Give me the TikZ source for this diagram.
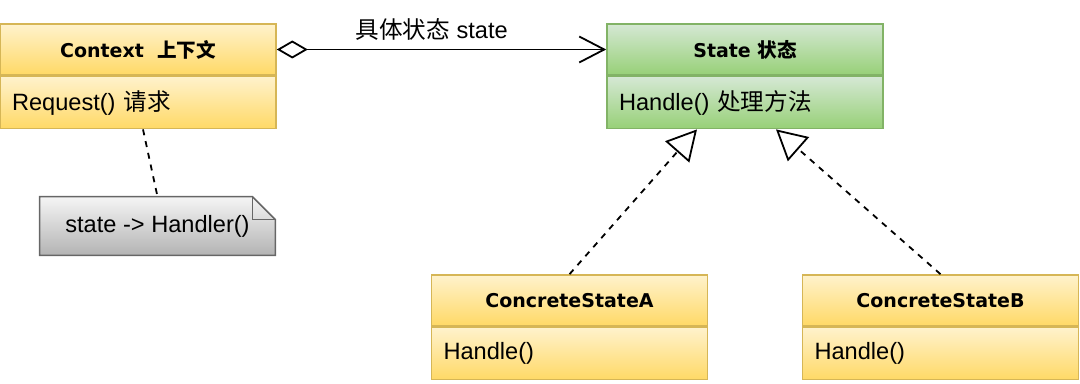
\documentclass[tikz,border=0pt]{standalone}
\usepackage{fontspec}
\setmainfont{Liberation Sans}
\newfontfamily\hdfont{DejaVu Sans}
\newfontfamily\cjk{Noto Sans CJK SC}
\usetikzlibrary{positioning, arrows.meta, backgrounds}

\definecolor{ylTop}{HTML}{FFF2CC}
\definecolor{ylBot}{HTML}{FFD966}
\definecolor{ylLine}{HTML}{D6B656}
\definecolor{grTop}{HTML}{D5E8D4}
\definecolor{grBot}{HTML}{97D077}
\definecolor{grLine}{HTML}{82B366}
\definecolor{gyTop}{HTML}{F5F5F5}
\definecolor{gyBot}{HTML}{B3B3B3}
\definecolor{gyLine}{HTML}{666666}

\tikzset{
  head/.style={draw, line width=0.8pt, minimum width=138pt, minimum height=25.5pt,
    inner sep=0pt, font=\hdfont\bfseries\fontsize{9.5}{11}\selectfont},
  body/.style={draw, line width=0.8pt, minimum height=26pt, text width=126pt,
    inner xsep=6pt, inner ysep=0pt, align=left, font=\fontsize{11.8}{13}\selectfont},
  ylbox/.style={top color=ylTop, bottom color=ylBot, draw=ylLine},
  grbox/.style={top color=grTop, bottom color=grBot, draw=grLine},
  notebox/.style={minimum width=117.5pt, minimum height=29pt, inner sep=0pt,
    font=\fontsize{11.8}{13}\selectfont},
  conn/.style={line width=0.9pt}
}

\begin{document}
\begin{tikzpicture}[x=0.5pt, y=-0.5pt, >=latex]
    \useasboundingbox (0,0) rectangle (1080,384);

    % 1. Context
    \node[head, ylbox] (ctxHead) at (138,49.5) {Context\ \ {\cjk\fontsize{9.8}{11}\selectfont 上下文}};
    \node[body, ylbox, below=0pt of ctxHead] (ctxBody) {Request() {\cjk 请求}};

    % 2. State
    \node[head, grbox] (stHead) at (745,49.5) {State {\cjk\fontsize{9.8}{11}\selectfont 状态}};
    \node[body, grbox, below=0pt of stHead] (stBody) {Handle() {\cjk 处理方法}};

    % 3. ConcreteStateA, ConcreteStateB
    \node[head, ylbox] (csaHead) at (569.5,300.5) {ConcreteStateA};
    \node[body, ylbox, below=0pt of csaHead] (csaBody) {Handle()};
    \node[head, ylbox] (csbHead) at (940.5,300.5) {ConcreteStateB};
    \node[body, ylbox, below=0pt of csbHead] (csbBody) {Handle()};

    % 4. Ghi chu
    \node[notebox] (note) at (157.5,226) {state -> Handler()};
    \begin{scope}[on background layer]
        \shade[top color=gyTop, bottom color=gyBot, draw=gyLine, line width=0.8pt]
            (note.south west) -- (note.north west) -- ([xshift=-11.5pt]note.north east)
            -- ([yshift=-11.5pt]note.north east) -- (note.south east) -- cycle;
        \draw[gyLine, line width=0.8pt] ([xshift=-11.5pt]note.north east)
            |- ([yshift=-11.5pt]note.north east);
    \end{scope}
    \draw[conn, dashed] ([xshift=2.5pt]ctxBody.south) -- (note.north);

    % 5. Cac duong noi
    \draw[conn, {Diamond[open, length=15.5pt, width=9pt]}-{Straight Barb[length=12.5pt, width=13pt]}]
        (ctxHead.east) -- node[pos=0.47, above=1pt, font=\fontsize{11.8}{13}\selectfont]
        {{\cjk 具体状态} state} (stHead.west);
    \draw[conn, dashed, -{Triangle[open, length=15pt, width=16pt]}]
        (csaHead.north) -- ([xshift=-24pt]stBody.south);
    \draw[conn, dashed, -{Triangle[open, length=15pt, width=16pt]}]
        (csbHead.north) -- ([xshift=15.5pt]stBody.south);
\end{tikzpicture}
\end{document}
